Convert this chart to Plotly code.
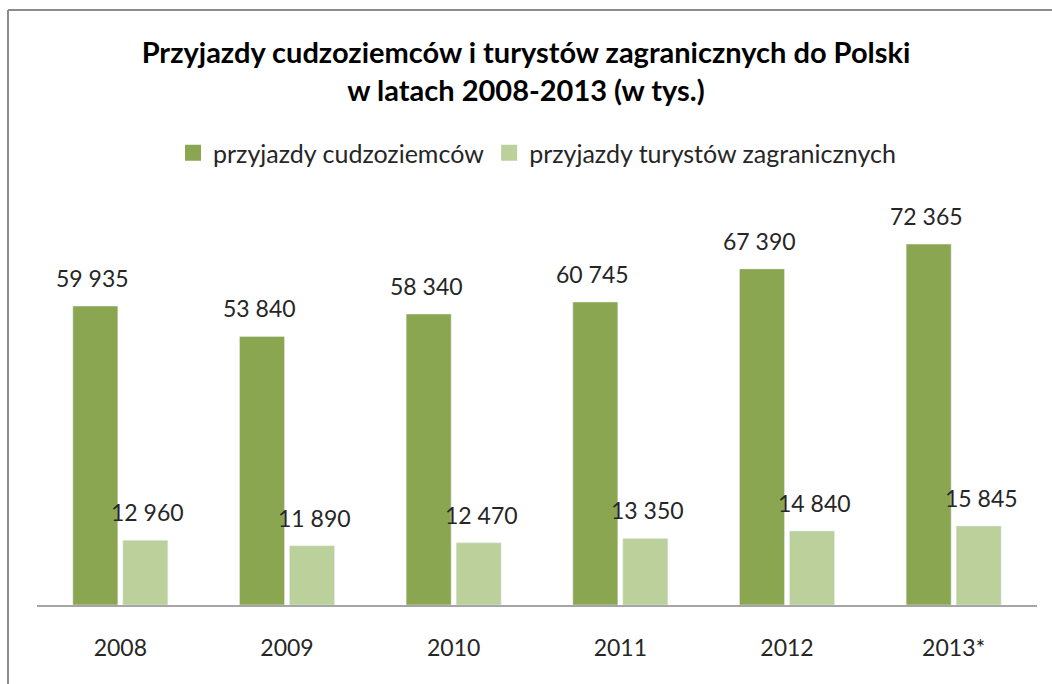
import plotly.graph_objects as go

years = ["2008", "2009", "2010", "2011", "2012", "2013*"]
foreigners = [59935, 53840, 58340, 60745, 67390, 72365]
tourists = [12960, 11890, 12470, 13350, 14840, 15845]
series_names = ["przyjazdy cudzoziemców", "przyjazdy turystów zagranicznych"]
colors = ["#8BA650", "#BBD09A"]

def fmt(v):
    return f"{v:,}".replace(",", "\u00a0")

fig = go.Figure()
for vals, name, col in ((foreigners, series_names[0], colors[0]), (tourists, series_names[1], colors[1])):
    fig.add_trace(go.Bar(x=years, y=vals, name=name, marker_color=col, showlegend=False))
# legend entries with larger square symbols
for name, col in zip(series_names, colors):
    fig.add_trace(go.Scatter(x=[None], y=[None], mode="markers", name=name,
                             marker=dict(symbol="square", size=20, color=col)))

annotations = []
for vals, shift in ((foreigners, -27.5), (tourists, 27.5)):
    for i, v in enumerate(vals):
        annotations.append(dict(x=i, y=v, text=fmt(v), showarrow=False,
                                xshift=shift, yshift=28, yanchor="middle",
                                font=dict(family="Lato", size=23, color="#262626")))

fig.update_layout(
    width=1052, height=684,
    margin=dict(l=37, r=15, t=206, b=79),
    paper_bgcolor="white", plot_bgcolor="white",
    barmode="group", bargap=0.4, bargroupgap=0.1,
    title=dict(text="<b>Przyjazdy cudzoziemców i turystów zagranicznych do Polski<br>w latach 2008-2013 (w tys.)</b>",
               x=0.5, xanchor="center", y=1 - 63 / 684, yanchor="middle",
               font=dict(family="Lato", size=29, color="#000000")),
    legend=dict(orientation="h", x=0.5, xanchor="center", y=(605 - 153) / 399, yanchor="middle",
                font=dict(family="Lato", size=25, color="#262626"), itemwidth=30),
    xaxis=dict(type="category", categoryorder="array", categoryarray=years,
               range=[-0.5, len(years) - 0.5], showline=True, linecolor="#A6A6A6", linewidth=2,
               ticks="", showgrid=False,
               tickfont=dict(family="Lato", size=23, color="#262626"), ticklabelstandoff=21),
    yaxis=dict(range=[0, 80000], visible=False, showgrid=False, zeroline=False),
    annotations=annotations,
)

# chart border (top and left edges visible)
fig.add_shape(type="line", xref="paper", yref="paper",
              x0=(8 - 37) / 1000, x1=(1052 - 37) / 1000, y0=(605 - 10) / 399, y1=(605 - 10) / 399,
              line=dict(color="#8C8C8C", width=2))
fig.add_shape(type="line", xref="paper", yref="paper",
              x0=(8 - 37) / 1000, x1=(8 - 37) / 1000, y0=(605 - 10) / 399, y1=(605 - 690) / 399,
              line=dict(color="#8C8C8C", width=2))

fig.write_html("out.html")
